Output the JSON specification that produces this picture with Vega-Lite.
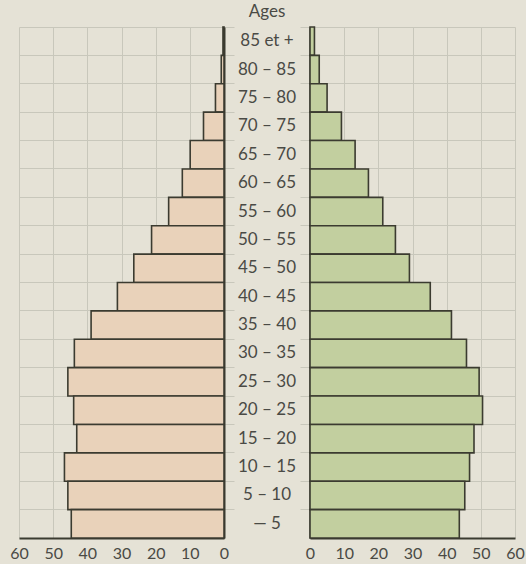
{
  "$schema": "https://vega.github.io/schema/vega-lite/v6.json",
  "background": "#e5e2d6",
  "padding": {"left": 9, "top": 3, "right": 3, "bottom": 3},
  "title": {"text": "Ages", "anchor": "middle", "fontSize": 17, "fontWeight": "normal", "color": "#4a4a45", "font": "Lato", "offset": 5},
  "spacing": 0,
  "bounds": "flush",
  "resolve": {"scale": {"x": "independent"}},
  "config": {
    "view": {"stroke": null},
    "font": "Lato",
    "axis": {"labelFont": "Lato", "labelFontSize": 16, "labelColor": "#4a4a45", "gridColor": "#c8c7bb", "gridWidth": 1, "labelFlush": false}
  },
  "data": {"values": [
    {"age": "85 et +", "hommes": 0.3, "femmes": 1.3},
    {"age": "80 – 85", "hommes": 0.8, "femmes": 2.7},
    {"age": "75 – 80", "hommes": 2.5, "femmes": 5.0},
    {"age": "70 – 75", "hommes": 6.0, "femmes": 9.2},
    {"age": "65 – 70", "hommes": 9.9, "femmes": 13.2},
    {"age": "60 – 65", "hommes": 12.2, "femmes": 17.1},
    {"age": "55 – 60", "hommes": 16.2, "femmes": 21.3},
    {"age": "50 – 55", "hommes": 21.2, "femmes": 25.0},
    {"age": "45 – 50", "hommes": 26.4, "femmes": 29.1},
    {"age": "40 – 45", "hommes": 31.2, "femmes": 35.2},
    {"age": "35 – 40", "hommes": 38.9, "femmes": 41.4},
    {"age": "30 – 35", "hommes": 43.8, "femmes": 45.8},
    {"age": "25 – 30", "hommes": 45.7, "femmes": 49.5},
    {"age": "20 – 25", "hommes": 44.0, "femmes": 50.5},
    {"age": "15 – 20", "hommes": 43.1, "femmes": 48.0},
    {"age": "10 – 15", "hommes": 46.7, "femmes": 46.7},
    {"age": "5 – 10", "hommes": 45.7, "femmes": 45.3},
    {"age": "— 5", "hommes": 44.7, "femmes": 43.7}
  ]},
  "hconcat": [
    {
      "width": 205, "height": 511,
      "mark": {"type": "bar", "fill": "#e9d2ba", "stroke": "#3b3b30", "strokeWidth": 1.6},
      "encoding": {
        "y": {"field": "age", "type": "nominal",
          "sort": ["85 et +", "80 – 85", "75 – 80", "70 – 75", "65 – 70", "60 – 65", "55 – 60", "50 – 55", "45 – 50", "40 – 45", "35 – 40", "30 – 35", "25 – 30", "20 – 25", "15 – 20", "10 – 15", "5 – 10", "— 5"],
          "scale": {"paddingInner": 0, "paddingOuter": 0},
          "axis": {"orient": "right", "title": null, "labels": false, "bandPosition": 0, "grid": true, "ticks": true, "tickSize": 10, "tickColor": "#c8c7bb", "domain": true, "domainColor": "#3b3b30", "domainWidth": 2}},
        "x": {"field": "hommes", "type": "quantitative",
          "scale": {"domain": [0, 60], "reverse": true, "nice": false},
          "axis": {"values": [0, 10, 20, 30, 40, 50, 60], "title": null, "grid": true, "ticks": false, "domainColor": "#3b3b30", "domainWidth": 2, "labelPadding": 7}}
      }
    },
    {
      "width": 86, "height": 511,
      "mark": {"type": "text", "fontSize": 17, "color": "#4a4a45", "font": "Lato"},
      "encoding": {
        "y": {"field": "age", "type": "nominal",
          "sort": ["85 et +", "80 – 85", "75 – 80", "70 – 75", "65 – 70", "60 – 65", "55 – 60", "50 – 55", "45 – 50", "40 – 45", "35 – 40", "30 – 35", "25 – 30", "20 – 25", "15 – 20", "10 – 15", "5 – 10", "— 5"],
          "scale": {"paddingInner": 0, "paddingOuter": 0},
          "axis": null},
        "text": {"field": "age"}
      }
    },
    {
      "width": 205, "height": 511,
      "mark": {"type": "bar", "fill": "#c2cf9f", "stroke": "#3b3b30", "strokeWidth": 1.6},
      "encoding": {
        "y": {"field": "age", "type": "nominal",
          "sort": ["85 et +", "80 – 85", "75 – 80", "70 – 75", "65 – 70", "60 – 65", "55 – 60", "50 – 55", "45 – 50", "40 – 45", "35 – 40", "30 – 35", "25 – 30", "20 – 25", "15 – 20", "10 – 15", "5 – 10", "— 5"],
          "scale": {"paddingInner": 0, "paddingOuter": 0},
          "axis": {"orient": "left", "title": null, "labels": false, "bandPosition": 0, "grid": true, "ticks": true, "tickSize": 10, "tickColor": "#c8c7bb", "domain": true, "domainColor": "#3b3b30", "domainWidth": 2}},
        "x": {"field": "femmes", "type": "quantitative",
          "scale": {"domain": [0, 60], "nice": false},
          "axis": {"values": [0, 10, 20, 30, 40, 50, 60], "title": null, "grid": true, "ticks": false, "domainColor": "#3b3b30", "domainWidth": 2, "labelPadding": 7}}
      }
    }
  ]
}
